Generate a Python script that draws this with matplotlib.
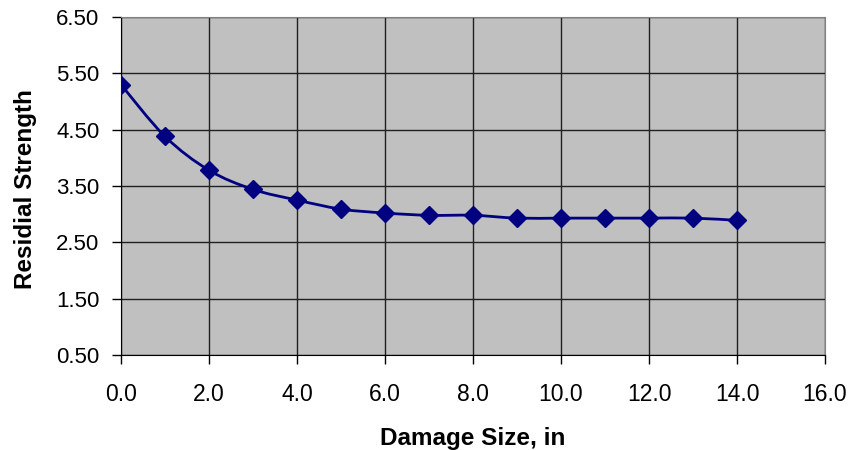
import numpy as np
import matplotlib
matplotlib.use("Agg")
import matplotlib.pyplot as plt
from matplotlib.path import Path
from matplotlib.patches import PathPatch

damage_size = [0, 1, 2, 3, 4, 5, 6, 7, 8, 9, 10, 11, 12, 13, 14]
residual_strength = [5.30, 4.38, 3.78, 3.44, 3.25, 3.09, 3.02, 2.98, 2.98, 2.93, 2.93, 2.93, 2.93, 2.93, 2.89]
x_ticks = [0, 2, 4, 6, 8, 10, 12, 14, 16]
y_ticks = [0.5, 1.5, 2.5, 3.5, 4.5, 5.5, 6.5]

plt.rcParams['font.family'] = ['Liberation Sans', 'DejaVu Sans']

fig = plt.figure(figsize=(8.66, 4.5), dpi=100)
ax = fig.add_axes([0.1397, 0.2111, 0.8130, 0.7511])
ax.set_facecolor('#C0C0C0')

# smoothed line (Catmull-Rom as cubic Bezier segments, like Excel's smoothed line)
xs = np.array(damage_size, float)
ys = np.array(residual_strength, float)
verts = [(xs[0], ys[0])]
codes = [Path.MOVETO]
n = len(xs)
for i in range(n - 1):
    p0 = (xs[max(i - 1, 0)], ys[max(i - 1, 0)])
    p1 = (xs[i], ys[i])
    p2 = (xs[i + 1], ys[i + 1])
    p3 = (xs[min(i + 2, n - 1)], ys[min(i + 2, n - 1)])
    c1 = (p1[0] + (p2[0] - p0[0]) / 6, p1[1] + (p2[1] - p0[1]) / 6)
    c2 = (p2[0] - (p3[0] - p1[0]) / 6, p2[1] - (p3[1] - p1[1]) / 6)
    verts += [c1, c2, p2]
    codes += [Path.CURVE4] * 3
ax.add_patch(PathPatch(Path(verts, codes), facecolor='none', edgecolor='#000080', lw=2, zorder=3))
ax.plot(damage_size, residual_strength, linestyle='none', marker='D', markersize=9.5,
        color='#000080', zorder=4)

ax.set_xlim(0, 16)
ax.set_ylim(0.5, 6.5)
ax.set_xticks(x_ticks)
ax.set_xticklabels([f"{v:.1f}" for v in x_ticks])
ax.set_yticks(y_ticks)
ax.set_yticklabels([f"{v:.2f}" for v in y_ticks])
ax.grid(True, color='#202020', lw=1)
ax.set_axisbelow(True)
for s in ax.spines.values():
    s.set_color('#808080')
ax.spines['left'].set_color('#000000')
ax.spines['bottom'].set_color('#000000')
ax.tick_params(axis='both', direction='out', length=6.5, width=1, colors='#000000')
ax.tick_params(axis='y', labelsize=16, pad=9)
ax.tick_params(axis='x', labelsize=16.5, pad=13.5)
ax.set_xlabel('Damage Size, in', fontsize=17.5, fontweight='bold', va='center')
ax.set_ylabel('Residial Strength', fontsize=17.5, fontweight='bold', va='center')
ax.xaxis.set_label_coords(0.5, -0.2456)
ax.yaxis.set_label_coords(-0.136, 0.49)

fig.savefig('out.png', dpi=100)
